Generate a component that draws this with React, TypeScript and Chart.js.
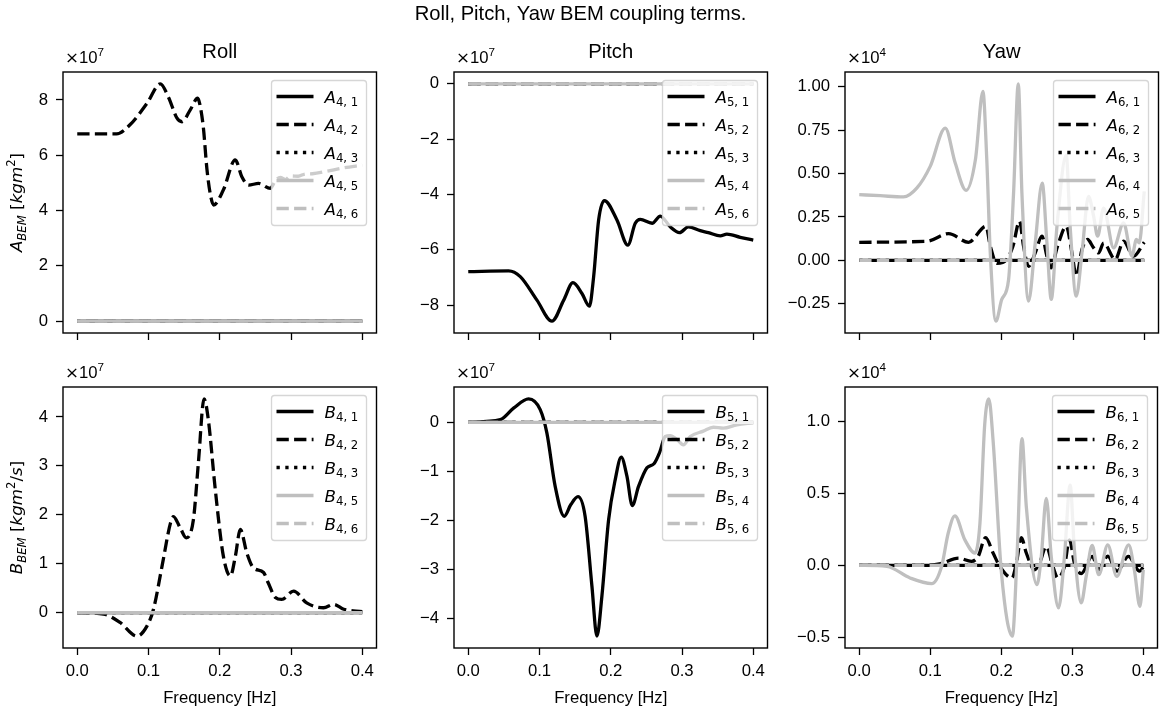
import React, { useEffect, useRef } from 'react';
import { Chart, registerables } from 'chart.js';

Chart.register(...registerables);

const FIG_W = 1161;
const FIG_H = 720;

const SANS = '"Liberation Sans", Arial, "DejaVu Sans", sans-serif';
const MATH = '"DejaVu Sans", sans-serif';
const FS = 16.7;
const FS_SMALL = 11.7;
const FS_TITLE = 20.2;

const BLACK = '#000000';
const GRAY = '#bfbfbf';
const LW = 3.3;
const DASHED = [12.3, 5.3];
const DOTTED = [3.3, 5.5];

// Frequency axis
const FREQ_MIN = -0.02;
const FREQ_MAX = 0.42;
const freqTicks = [0, 0.1, 0.2, 0.3, 0.4];
const freqTickLabels = ['0.0', '0.1', '0.2', '0.3', '0.4'];

// Terms that stay at zero over the whole band
const flatFreq = [0, 0.4];
const flatZero = [0, 0];

// Roll: added mass A(4,2) [x1e7 kg m^2]
const rollA42Freq = [0, 0.055, 0.074, 0.098, 0.1165, 0.128, 0.14, 0.147, 0.1586, 0.169, 0.172, 0.177, 0.182, 0.1867, 0.1914, 0.205, 0.2218, 0.231, 0.2405, 0.2545, 0.271, 0.278, 0.285, 0.292, 0.3, 0.31, 0.32, 0.33, 0.35, 0.373, 0.4];
const rollA42 = [6.77, 6.77, 7.1, 7.88, 8.58, 8.1, 7.34, 7.21, 7.64, 8.06, 7.85, 7.0, 5.5, 4.6, 4.2, 4.74, 5.83, 5.22, 4.92, 4.98, 4.8, 5.08, 5.2, 5.12, 5.25, 5.24, 5.32, 5.33, 5.42, 5.54, 5.64];

// Roll: damping B(4,2) [x1e7 kg m^2/s]
const rollB42Freq = [0, 0.037, 0.06, 0.0838, 0.098, 0.107, 0.119, 0.131, 0.135, 0.1446, 0.153, 0.163, 0.17, 0.178, 0.184, 0.1937, 0.205, 0.215, 0.222, 0.2288, 0.238, 0.247, 0.2615, 0.268, 0.278, 0.287, 0.3036, 0.322, 0.3457, 0.36, 0.374, 0.4];
const rollB42 = [0, -0.03, -0.2, -0.48, -0.27, 0.07, 0.95, 1.84, 1.96, 1.73, 1.53, 1.9, 3.06, 4.37, 3.94, 2.52, 1.16, 0.75, 1.16, 1.7, 1.22, 0.92, 0.82, 0.61, 0.31, 0.27, 0.44, 0.2, 0.1, 0.17, 0.07, 0.02];

// Pitch: added mass A(5,1) [x1e7 kg m^2]
const pitchA51Freq = [0, 0.0566, 0.073, 0.0964, 0.1175, 0.134, 0.147, 0.1596, 0.17, 0.176, 0.183, 0.191, 0.2087, 0.224, 0.2344, 0.2414, 0.258, 0.2695, 0.2835, 0.2966, 0.309, 0.3256, 0.337, 0.3537, 0.363, 0.3817, 0.4];
const pitchA51 = [-6.79, -6.76, -6.97, -7.82, -8.58, -7.82, -7.19, -7.58, -8.04, -6.97, -4.92, -4.22, -4.92, -5.83, -5.04, -4.9, -5.04, -4.78, -5.17, -5.38, -5.17, -5.31, -5.38, -5.5, -5.43, -5.55, -5.65];

// Pitch: damping B(5,1) [x1e7 kg m^2/s]
const pitchB51Freq = [0, 0.045, 0.0636, 0.0847, 0.101, 0.1104, 0.122, 0.1347, 0.144, 0.154, 0.164, 0.1736, 0.1806, 0.1876, 0.197, 0.2063, 0.2147, 0.2227, 0.2302, 0.239, 0.2508, 0.261, 0.2685, 0.2765, 0.2835, 0.293, 0.302, 0.3116, 0.33, 0.344, 0.358, 0.377, 0.4];
const pitchB51 = [0, 0.055, 0.29, 0.48, 0.26, -0.22, -1.31, -1.92, -1.68, -1.52, -1.92, -3.35, -4.37, -3.55, -1.99, -1.17, -0.71, -1.1, -1.7, -1.31, -0.93, -0.84, -0.62, -0.29, -0.27, -0.35, -0.46, -0.29, -0.18, -0.1, -0.12, -0.05, -0.01];

// Yaw: added mass A(6,2) and A(6,4) [x1e4 kg m^2]
const yawA62Freq = [0, 0.095, 0.1254, 0.1534, 0.1778, 0.184, 0.193, 0.207, 0.2157, 0.225, 0.2306, 0.2376, 0.247, 0.2564, 0.2634, 0.269, 0.2783, 0.2905, 0.2985, 0.3046, 0.3126, 0.3204, 0.329, 0.3359, 0.343, 0.3593, 0.371, 0.385, 0.4];
const yawA62 = [0.104, 0.11, 0.154, 0.104, 0.196, 0.081, -0.018, 0.005, 0.081, 0.225, 0.081, -0.034, 0.043, 0.139, 0.024, -0.043, 0.081, 0.196, 0.043, -0.091, 0.062, 0.12, 0.072, 0.043, 0.1, 0.005, 0.11, 0.024, 0.104];
const yawA64Freq = [0, 0.0295, 0.062, 0.081, 0.0996, 0.1207, 0.1347, 0.15, 0.163, 0.1736, 0.179, 0.1839, 0.1918, 0.2, 0.2096, 0.2166, 0.2232, 0.2283, 0.2376, 0.247, 0.2568, 0.2634, 0.2695, 0.2775, 0.2905, 0.296, 0.3046, 0.3126, 0.3218, 0.329, 0.3345, 0.343, 0.357, 0.371, 0.3827, 0.389, 0.393, 0.4];
const yawA64 = [0.378, 0.372, 0.365, 0.417, 0.541, 0.761, 0.56, 0.403, 0.579, 0.972, 0.579, 0.043, -0.35, -0.225, -0.11, 0.388, 1.016, 0.388, -0.235, 0.1, 0.445, 0.1, -0.225, 0.196, 0.605, 0.196, -0.206, 0.043, 0.368, 0.253, 0.139, 0.3, 0.072, 0.215, 0.024, 0.12, 0.1, 0.397];

// Yaw: damping B(6,2) and B(6,4) [x1e4 kg m^2/s]
const yawB62Freq = [0, 0.0856, 0.113, 0.14, 0.158, 0.1675, 0.178, 0.1885, 0.198, 0.2152, 0.2213, 0.2283, 0.2353, 0.247, 0.254, 0.2634, 0.2727, 0.2797, 0.289, 0.2961, 0.303, 0.3126, 0.328, 0.3373, 0.35, 0.363, 0.379, 0.395, 0.4];
const yawB62 = [0, 0, 0.01, 0.05, 0.028, 0.062, 0.193, 0.086, -0.007, -0.087, 0.017, 0.193, 0.086, -0.03, 0.017, 0.131, -0.007, -0.087, -0.007, 0.177, 0.017, -0.057, 0.062, -0.03, 0.065, -0.04, 0.062, -0.04, -0.01];
const yawB64Freq = [0, 0.039, 0.0716, 0.102, 0.116, 0.1253, 0.1347, 0.1488, 0.163, 0.17, 0.1768, 0.1825, 0.1885, 0.2003, 0.2157, 0.2222, 0.2292, 0.2353, 0.2503, 0.2564, 0.2634, 0.2704, 0.2807, 0.289, 0.297, 0.303, 0.3126, 0.3196, 0.328, 0.3373, 0.35, 0.3626, 0.3794, 0.3874, 0.3953, 0.4];
const yawB64 = [0, -0.007, -0.087, -0.126, -0.007, 0.223, 0.343, 0.177, 0.086, 0.292, 0.982, 1.154, 0.867, -0.052, -0.49, 0.062, 0.879, 0.407, -0.133, 0.062, 0.465, 0.062, -0.294, 0.062, 0.557, 0.108, -0.26, -0.076, 0.138, -0.064, 0.143, -0.076, 0.143, -0.03, -0.283, -0.03];

// Legend subscripts
const rollSubs = ['4, 1', '4, 2', '4, 3', '4, 5', '4, 6'];
const pitchSubs = ['5, 1', '5, 2', '5, 3', '5, 4', '5, 6'];
const yawSubs = ['6, 1', '6, 2', '6, 3', '6, 4', '6, 5'];

// Y ticks
const rollATicks = [0, 2, 4, 6, 8];
const rollATickLabels = ['0', '2', '4', '6', '8'];
const pitchATicks = [-8, -6, -4, -2, 0];
const pitchATickLabels = ['\u22128', '\u22126', '\u22124', '\u22122', '0'];
const yawATicks = [-0.25, 0, 0.25, 0.5, 0.75, 1.0];
const yawATickLabels = ['\u22120.25', '0.00', '0.25', '0.50', '0.75', '1.00'];
const rollBTicks = [0, 1, 2, 3, 4];
const rollBTickLabels = ['0', '1', '2', '3', '4'];
const pitchBTicks = [-4, -3, -2, -1, 0];
const pitchBTickLabels = ['\u22124', '\u22123', '\u22122', '\u22121', '0'];
const yawBTicks = [-0.5, 0, 0.5, 1.0];
const yawBTickLabels = ['\u22120.5', '0.0', '0.5', '1.0'];

type Kind = 'solid' | 'dashed' | 'dotted';
type Seg = { t: string; italic?: boolean; size?: number; dy?: number; family?: string };

// line style of the five terms in each panel, in legend order
const termKinds: Kind[] = ['solid', 'dashed', 'dotted', 'solid', 'dashed'];
const termColors = [BLACK, BLACK, BLACK, GRAY, GRAY];

function terms(subs: string[], curves: [number[], number[]][]) {
  return subs.map((sub, i) => ({
    sub,
    freq: curves[i][0],
    values: curves[i][1],
    kind: termKinds[i],
    color: termColors[i],
  }));
}

const flat: [number[], number[]] = [flatFreq, flatZero];

const yLabelA: Seg[] = [
  { t: 'A', italic: true },
  { t: 'BEM', italic: true, size: FS_SMALL, dy: 3.5 },
  { t: ' ' },
  { t: '[' },
  { t: 'kgm', italic: true },
  { t: '2', size: FS_SMALL, dy: -7 },
  { t: ']' },
];
const yLabelB: Seg[] = [
  { t: 'B', italic: true },
  { t: 'BEM', italic: true, size: FS_SMALL, dy: 3.5 },
  { t: ' ' },
  { t: '[' },
  { t: 'kgm', italic: true },
  { t: '2', size: FS_SMALL, dy: -7 },
  { t: '/' },
  { t: 's', italic: true },
  { t: ']' },
];

const COL = [
  [63, 376.5],
  [454, 767.5],
  [845, 1158.5],
];
const ROW = [
  [72, 333],
  [387, 648],
];

const panels = [
  {
    box: [COL[0][0], ROW[0][0], COL[0][1], ROW[0][1]], title: 'Roll', suptitle: 'Roll, Pitch, Yaw BEM coupling terms.',
    exp: 7, sym: 'A', xLabels: false, yLabel: yLabelA,
    yTicks: rollATicks, yTickLabels: rollATickLabels,
    series: terms(rollSubs, [flat, [rollA42Freq, rollA42], flat, flat, flat]),
  },
  {
    box: [COL[1][0], ROW[0][0], COL[1][1], ROW[0][1]], title: 'Pitch',
    exp: 7, sym: 'A', xLabels: false,
    yTicks: pitchATicks, yTickLabels: pitchATickLabels,
    series: terms(pitchSubs, [[pitchA51Freq, pitchA51], flat, flat, flat, flat]),
  },
  {
    box: [COL[2][0], ROW[0][0], COL[2][1], ROW[0][1]], title: 'Yaw',
    exp: 4, sym: 'A', xLabels: false,
    yTicks: yawATicks, yTickLabels: yawATickLabels,
    series: terms(yawSubs, [flat, [yawA62Freq, yawA62], flat, [yawA64Freq, yawA64], flat]),
  },
  {
    box: [COL[0][0], ROW[1][0], COL[0][1], ROW[1][1]],
    exp: 7, sym: 'B', xLabels: true, yLabel: yLabelB,
    yTicks: rollBTicks, yTickLabels: rollBTickLabels,
    series: terms(rollSubs, [flat, [rollB42Freq, rollB42], flat, flat, flat]),
  },
  {
    box: [COL[1][0], ROW[1][0], COL[1][1], ROW[1][1]],
    exp: 7, sym: 'B', xLabels: true,
    yTicks: pitchBTicks, yTickLabels: pitchBTickLabels,
    series: terms(pitchSubs, [[pitchB51Freq, pitchB51], flat, flat, flat, flat]),
  },
  {
    box: [COL[2][0], ROW[1][0], COL[2][1], ROW[1][1]],
    exp: 4, sym: 'B', xLabels: true,
    yTicks: yawBTicks, yTickLabels: yawBTickLabels,
    series: terms(yawSubs, [flat, [yawB62Freq, yawB62], flat, [yawB64Freq, yawB64], flat]),
  },
];

const X_H = 40;
const TICK = 7;

// Legend geometry (px)
const LEG_W = 95;
const LEG_H = 145;
const LEG_INSET_R = 10;
const LEG_INSET_T = 8.5;
const LEG_ROW0 = 16;
const LEG_ROW = 28;
const HANDLE_X0 = 5;
const HANDLE_X1 = 42;
const LABEL_X = 53;

function yRange(series: any[]) {
  let lo = Infinity;
  let hi = -Infinity;
  series.forEach((s) => s.values.forEach((v: number) => { lo = Math.min(lo, v); hi = Math.max(hi, v); }));
  const pad = 0.05 * (hi - lo);
  return [lo - pad, hi + pad];
}

function drawSegs(ctx: CanvasRenderingContext2D, segs: Seg[], x: number, y: number, align: 'left' | 'center', baseFamily = MATH) {
  const fontOf = (s: Seg) => `${s.italic ? 'italic ' : ''}${s.size ?? FS}px ${s.family ?? baseFamily}`;
  const widths = segs.map((s) => { ctx.font = fontOf(s); return ctx.measureText(s.t).width; });
  const total = widths.reduce((a, b) => a + b, 0);
  let cx = align === 'center' ? x - total / 2 : x;
  ctx.textAlign = 'left';
  ctx.textBaseline = 'alphabetic';
  segs.forEach((s, i) => {
    ctx.font = fontOf(s);
    ctx.fillText(s.t, cx, y + (s.dy ?? 0));
    cx += widths[i];
  });
}

function roundedRect(ctx: CanvasRenderingContext2D, x: number, y: number, w: number, h: number, r: number) {
  ctx.beginPath();
  ctx.moveTo(x + r, y);
  ctx.lineTo(x + w - r, y);
  ctx.arcTo(x + w, y, x + w, y + r, r);
  ctx.lineTo(x + w, y + h - r);
  ctx.arcTo(x + w, y + h, x + w - r, y + h, r);
  ctx.lineTo(x + r, y + h);
  ctx.arcTo(x, y + h, x, y + h - r, r);
  ctx.lineTo(x, y + r);
  ctx.arcTo(x, y, x + r, y, r);
  ctx.closePath();
}

function decor(p: any) {
  return {
    id: 'decor',
    afterDatasetsDraw(chart: any) {
      const ctx: CanvasRenderingContext2D = chart.ctx;
      const a = chart.chartArea;
      ctx.save();
      // axes frame
      ctx.setLineDash([]);
      ctx.strokeStyle = BLACK;
      ctx.lineWidth = 1.4;
      ctx.strokeRect(a.left, a.top, a.right - a.left, a.bottom - a.top);

      // legend, upper right
      const x0 = a.right - LEG_INSET_R - LEG_W;
      const y0 = a.top + LEG_INSET_T;
      roundedRect(ctx, x0, y0, LEG_W, LEG_H, 3);
      ctx.fillStyle = 'rgba(255,255,255,0.8)';
      ctx.fill();
      ctx.strokeStyle = 'rgba(204,204,204,0.8)';
      ctx.lineWidth = 1.3;
      ctx.stroke();
      chart.data.datasets.forEach((ds: any, i: number) => {
        const yy = y0 + LEG_ROW0 + i * LEG_ROW;
        ctx.beginPath();
        ctx.setLineDash(ds.borderDash || []);
        ctx.lineDashOffset = 0;
        ctx.strokeStyle = ds.borderColor;
        ctx.lineWidth = ds.borderWidth;
        ctx.lineCap = 'butt';
        ctx.moveTo(x0 + HANDLE_X0, yy);
        ctx.lineTo(x0 + HANDLE_X1, yy);
        ctx.stroke();
        ctx.setLineDash([]);
        ctx.fillStyle = BLACK;
        drawSegs(ctx, [
          { t: p.sym, italic: true },
          { t: p.series[i].sub, size: FS_SMALL, dy: 3 },
        ], x0 + LABEL_X, yy + 6, 'left');
      });
      ctx.restore();
    },
    afterDraw(chart: any) {
      const ctx: CanvasRenderingContext2D = chart.ctx;
      const a = chart.chartArea;
      const cx = (a.left + a.right) / 2;
      ctx.save();
      ctx.fillStyle = BLACK;
      if (p.suptitle) {
        ctx.font = `${FS_TITLE}px ${SANS}`;
        ctx.textAlign = 'center';
        ctx.textBaseline = 'alphabetic';
        ctx.fillText(p.suptitle, FIG_W / 2, 20);
      }
      if (p.title) {
        ctx.font = `${FS_TITLE}px ${SANS}`;
        ctx.textAlign = 'center';
        ctx.textBaseline = 'alphabetic';
        ctx.fillText(p.title, cx, a.top - 14);
      }
      // scale factor above the y axis
      drawSegs(ctx, [
        { t: '\u00d7', family: MATH },
        { t: '10' },
        { t: String(p.exp), size: FS_SMALL, dy: -7.5 },
      ], a.left + 2, a.top - 9, 'left', SANS);
      if (p.xLabels) {
        ctx.font = `${FS}px ${SANS}`;
        ctx.textAlign = 'center';
        ctx.textBaseline = 'alphabetic';
        ctx.fillText('Frequency [Hz]', cx, a.bottom + 55);
      }
      if (p.yLabel) {
        ctx.translate(22, (a.top + a.bottom) / 2);
        ctx.rotate(-Math.PI / 2);
        drawSegs(ctx, p.yLabel, 0, 0, 'center');
      }
      ctx.restore();
    },
  };
}

function buildConfig(p: any) {
  const [l, t, r, b] = p.box;
  const [ymin, ymax] = yRange(p.series);
  const yW = Math.min(72, l - 2);
  const n = p.series.length;
  return {
    type: 'line',
    data: {
      datasets: p.series.map((s: any, i: number) => ({
        label: `${p.sym}_{${s.sub}}`,
        data: s.freq.map((f: number, k: number) => ({ x: f, y: s.values[k] })),
        // later terms are painted over earlier ones
        order: n - i,
        borderColor: s.color,
        backgroundColor: s.color,
        borderWidth: LW,
        borderDash: s.kind === 'dashed' ? DASHED : s.kind === 'dotted' ? DOTTED : [],
        borderCapStyle: 'butt',
        borderJoinStyle: 'round',
        pointRadius: 0,
        pointHoverRadius: 0,
        fill: false,
        cubicInterpolationMode: 'monotone',
      })),
    },
    options: {
      responsive: false,
      animation: false,
      events: [],
      layout: { padding: { left: l - yW, top: t, right: FIG_W - r, bottom: FIG_H - b - X_H } },
      plugins: { legend: { display: false }, tooltip: { enabled: false }, title: { display: false } },
      scales: {
        x: {
          type: 'linear',
          bounds: 'data',
          min: FREQ_MIN,
          max: FREQ_MAX,
          afterBuildTicks: (s: any) => { s.ticks = freqTicks.map((v) => ({ value: v })); },
          afterFit: (s: any) => { s.height = X_H; },
          grid: { drawOnChartArea: false, drawTicks: true, tickLength: TICK, color: BLACK, tickWidth: 1.3 },
          border: { display: false },
          ticks: {
            color: BLACK,
            font: { family: SANS, size: FS },
            padding: 6,
            maxRotation: 0,
            minRotation: 0,
            autoSkip: false,
            includeBounds: false,
            callback: (_v: any, i: number) => (p.xLabels ? freqTickLabels[i] : ''),
          },
        },
        y: {
          type: 'linear',
          bounds: 'data',
          min: ymin,
          max: ymax,
          afterBuildTicks: (s: any) => { s.ticks = p.yTicks.map((v: number) => ({ value: v })); },
          afterFit: (s: any) => { s.width = yW; },
          grid: { drawOnChartArea: false, drawTicks: true, tickLength: TICK, color: BLACK, tickWidth: 1.3 },
          border: { display: false },
          ticks: {
            color: BLACK,
            font: { family: SANS, size: FS },
            padding: 8,
            autoSkip: false,
            includeBounds: false,
            callback: (_v: any, i: number) => p.yTickLabels[i],
          },
        },
      },
    },
    plugins: [decor(p)],
  };
}

export default function App() {
  const refs = useRef<(HTMLCanvasElement | null)[]>([]);
  useEffect(() => {
    const charts = panels.map((p, i) => new Chart(refs.current[i] as HTMLCanvasElement, buildConfig(p) as any));
    return () => charts.forEach((c) => c.destroy());
  }, []);
  return (
    <div style={{ position: 'absolute', left: 0, top: 0, width: FIG_W, height: FIG_H, background: '#ffffff', overflow: 'hidden' }}>
      {panels.map((p, i) => (
        <canvas
          key={i}
          ref={(el) => { refs.current[i] = el; }}
          width={FIG_W}
          height={FIG_H}
          style={{ position: 'absolute', left: 0, top: 0 }}
        />
      ))}
    </div>
  );
}
